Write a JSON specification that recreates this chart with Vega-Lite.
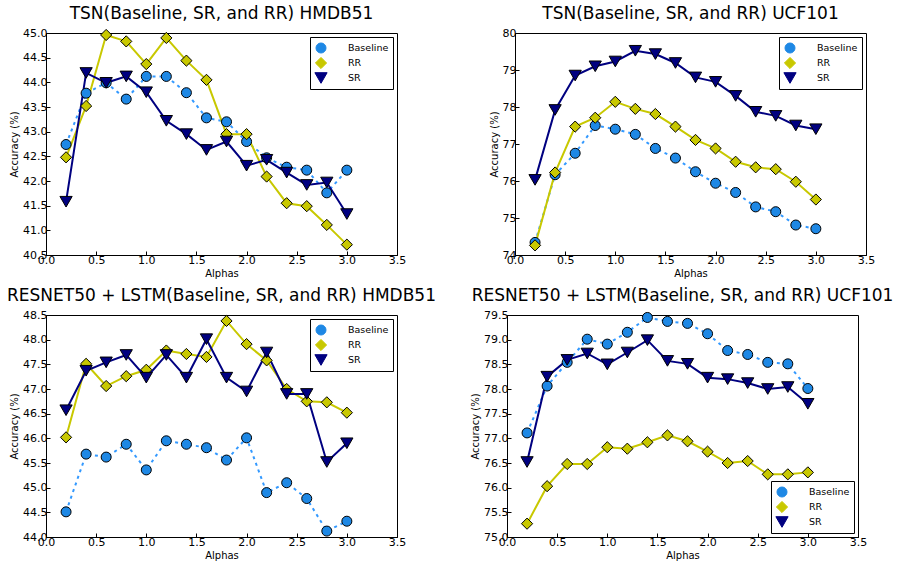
{
  "$schema": "https://vega.github.io/schema/vega-lite/v6.json",
  "padding": {"left": 6, "top": 4, "right": 2, "bottom": 1},
  "background": "white",
  "datasets": {
    "p1": [
      {"alpha":0.2,"series":"Baseline","acc":42.74},{"alpha":0.4,"series":"Baseline","acc":43.78},{"alpha":0.6,"series":"Baseline","acc":43.99},{"alpha":0.8,"series":"Baseline","acc":43.66},{"alpha":1.0,"series":"Baseline","acc":44.12},{"alpha":1.2,"series":"Baseline","acc":44.12},{"alpha":1.4,"series":"Baseline","acc":43.79},{"alpha":1.6,"series":"Baseline","acc":43.28},{"alpha":1.8,"series":"Baseline","acc":43.2},{"alpha":2.0,"series":"Baseline","acc":42.8},{"alpha":2.2,"series":"Baseline","acc":42.47},{"alpha":2.4,"series":"Baseline","acc":42.28},{"alpha":2.6,"series":"Baseline","acc":42.22},{"alpha":2.8,"series":"Baseline","acc":41.76},{"alpha":3.0,"series":"Baseline","acc":42.22},
      {"alpha":0.2,"series":"RR","acc":42.48},{"alpha":0.4,"series":"RR","acc":43.52},{"alpha":0.6,"series":"RR","acc":44.96},{"alpha":0.8,"series":"RR","acc":44.83},{"alpha":1.0,"series":"RR","acc":44.37},{"alpha":1.2,"series":"RR","acc":44.9},{"alpha":1.4,"series":"RR","acc":44.44},{"alpha":1.6,"series":"RR","acc":44.05},{"alpha":1.8,"series":"RR","acc":42.95},{"alpha":2.0,"series":"RR","acc":42.95},{"alpha":2.2,"series":"RR","acc":42.09},{"alpha":2.4,"series":"RR","acc":41.55},{"alpha":2.6,"series":"RR","acc":41.49},{"alpha":2.8,"series":"RR","acc":41.11},{"alpha":3.0,"series":"RR","acc":40.71},
      {"alpha":0.2,"series":"SR","acc":41.58},{"alpha":0.4,"series":"SR","acc":44.19},{"alpha":0.6,"series":"SR","acc":43.99},{"alpha":0.8,"series":"SR","acc":44.12},{"alpha":1.0,"series":"SR","acc":43.8},{"alpha":1.2,"series":"SR","acc":43.22},{"alpha":1.4,"series":"SR","acc":42.95},{"alpha":1.6,"series":"SR","acc":42.63},{"alpha":1.8,"series":"SR","acc":42.8},{"alpha":2.0,"series":"SR","acc":42.31},{"alpha":2.2,"series":"SR","acc":42.43},{"alpha":2.4,"series":"SR","acc":42.17},{"alpha":2.6,"series":"SR","acc":41.92},{"alpha":2.8,"series":"SR","acc":41.97},{"alpha":3.0,"series":"SR","acc":41.33}
    ],
    "p2": [
      {"alpha":0.2,"series":"Baseline","acc":74.34},{"alpha":0.4,"series":"Baseline","acc":76.17},{"alpha":0.6,"series":"Baseline","acc":76.75},{"alpha":0.8,"series":"Baseline","acc":77.5},{"alpha":1.0,"series":"Baseline","acc":77.4},{"alpha":1.2,"series":"Baseline","acc":77.26},{"alpha":1.4,"series":"Baseline","acc":76.88},{"alpha":1.6,"series":"Baseline","acc":76.62},{"alpha":1.8,"series":"Baseline","acc":76.25},{"alpha":2.0,"series":"Baseline","acc":75.94},{"alpha":2.2,"series":"Baseline","acc":75.69},{"alpha":2.4,"series":"Baseline","acc":75.3},{"alpha":2.6,"series":"Baseline","acc":75.17},{"alpha":2.8,"series":"Baseline","acc":74.81},{"alpha":3.0,"series":"Baseline","acc":74.71},
      {"alpha":0.2,"series":"RR","acc":74.26},{"alpha":0.4,"series":"RR","acc":76.23},{"alpha":0.6,"series":"RR","acc":77.47},{"alpha":0.8,"series":"RR","acc":77.71},{"alpha":1.0,"series":"RR","acc":78.14},{"alpha":1.2,"series":"RR","acc":77.95},{"alpha":1.4,"series":"RR","acc":77.81},{"alpha":1.6,"series":"RR","acc":77.47},{"alpha":1.8,"series":"RR","acc":77.11},{"alpha":2.0,"series":"RR","acc":76.88},{"alpha":2.2,"series":"RR","acc":76.52},{"alpha":2.4,"series":"RR","acc":76.37},{"alpha":2.6,"series":"RR","acc":76.32},{"alpha":2.8,"series":"RR","acc":75.98},{"alpha":3.0,"series":"RR","acc":75.5},
      {"alpha":0.2,"series":"SR","acc":76.03},{"alpha":0.4,"series":"SR","acc":77.92},{"alpha":0.6,"series":"SR","acc":78.85},{"alpha":0.8,"series":"SR","acc":79.1},{"alpha":1.0,"series":"SR","acc":79.23},{"alpha":1.2,"series":"SR","acc":79.52},{"alpha":1.4,"series":"SR","acc":79.43},{"alpha":1.6,"series":"SR","acc":79.19},{"alpha":1.8,"series":"SR","acc":78.8},{"alpha":2.0,"series":"SR","acc":78.68},{"alpha":2.2,"series":"SR","acc":78.3},{"alpha":2.4,"series":"SR","acc":77.87},{"alpha":2.6,"series":"SR","acc":77.76},{"alpha":2.8,"series":"SR","acc":77.5},{"alpha":3.0,"series":"SR","acc":77.4}
    ],
    "p3": [
      {"alpha":0.2,"series":"Baseline","acc":44.51},{"alpha":0.4,"series":"Baseline","acc":45.68},{"alpha":0.6,"series":"Baseline","acc":45.62},{"alpha":0.8,"series":"Baseline","acc":45.88},{"alpha":1.0,"series":"Baseline","acc":45.36},{"alpha":1.2,"series":"Baseline","acc":45.95},{"alpha":1.4,"series":"Baseline","acc":45.88},{"alpha":1.6,"series":"Baseline","acc":45.81},{"alpha":1.8,"series":"Baseline","acc":45.56},{"alpha":2.0,"series":"Baseline","acc":46.01},{"alpha":2.2,"series":"Baseline","acc":44.9},{"alpha":2.4,"series":"Baseline","acc":45.1},{"alpha":2.6,"series":"Baseline","acc":44.78},{"alpha":2.8,"series":"Baseline","acc":44.12},{"alpha":3.0,"series":"Baseline","acc":44.32},
      {"alpha":0.2,"series":"RR","acc":46.02},{"alpha":0.4,"series":"RR","acc":47.51},{"alpha":0.6,"series":"RR","acc":47.06},{"alpha":0.8,"series":"RR","acc":47.26},{"alpha":1.0,"series":"RR","acc":47.39},{"alpha":1.2,"series":"RR","acc":47.78},{"alpha":1.4,"series":"RR","acc":47.71},{"alpha":1.6,"series":"RR","acc":47.65},{"alpha":1.8,"series":"RR","acc":48.38},{"alpha":2.0,"series":"RR","acc":47.91},{"alpha":2.2,"series":"RR","acc":47.58},{"alpha":2.4,"series":"RR","acc":47.0},{"alpha":2.6,"series":"RR","acc":46.75},{"alpha":2.8,"series":"RR","acc":46.73},{"alpha":3.0,"series":"RR","acc":46.52},
      {"alpha":0.2,"series":"SR","acc":46.57},{"alpha":0.4,"series":"SR","acc":47.37},{"alpha":0.6,"series":"SR","acc":47.54},{"alpha":0.8,"series":"SR","acc":47.69},{"alpha":1.0,"series":"SR","acc":47.23},{"alpha":1.2,"series":"SR","acc":47.69},{"alpha":1.4,"series":"SR","acc":47.23},{"alpha":1.6,"series":"SR","acc":48.01},{"alpha":1.8,"series":"SR","acc":47.23},{"alpha":2.0,"series":"SR","acc":46.95},{"alpha":2.2,"series":"SR","acc":47.74},{"alpha":2.4,"series":"SR","acc":46.9},{"alpha":2.6,"series":"SR","acc":46.9},{"alpha":2.8,"series":"SR","acc":45.52},{"alpha":3.0,"series":"SR","acc":45.9}
    ],
    "p4": [
      {"alpha":0.2,"series":"Baseline","acc":77.11},{"alpha":0.4,"series":"Baseline","acc":78.06},{"alpha":0.6,"series":"Baseline","acc":78.54},{"alpha":0.8,"series":"Baseline","acc":79.01},{"alpha":1.0,"series":"Baseline","acc":78.91},{"alpha":1.2,"series":"Baseline","acc":79.15},{"alpha":1.4,"series":"Baseline","acc":79.45},{"alpha":1.6,"series":"Baseline","acc":79.37},{"alpha":1.8,"series":"Baseline","acc":79.33},{"alpha":2.0,"series":"Baseline","acc":79.12},{"alpha":2.2,"series":"Baseline","acc":78.78},{"alpha":2.4,"series":"Baseline","acc":78.7},{"alpha":2.6,"series":"Baseline","acc":78.54},{"alpha":2.8,"series":"Baseline","acc":78.51},{"alpha":3.0,"series":"Baseline","acc":78.01},
      {"alpha":0.2,"series":"RR","acc":75.27},{"alpha":0.4,"series":"RR","acc":76.03},{"alpha":0.6,"series":"RR","acc":76.48},{"alpha":0.8,"series":"RR","acc":76.48},{"alpha":1.0,"series":"RR","acc":76.82},{"alpha":1.2,"series":"RR","acc":76.79},{"alpha":1.4,"series":"RR","acc":76.92},{"alpha":1.6,"series":"RR","acc":77.06},{"alpha":1.8,"series":"RR","acc":76.94},{"alpha":2.0,"series":"RR","acc":76.73},{"alpha":2.2,"series":"RR","acc":76.5},{"alpha":2.4,"series":"RR","acc":76.54},{"alpha":2.6,"series":"RR","acc":76.27},{"alpha":2.8,"series":"RR","acc":76.27},{"alpha":3.0,"series":"RR","acc":76.31},
      {"alpha":0.2,"series":"SR","acc":76.52},{"alpha":0.4,"series":"SR","acc":78.25},{"alpha":0.6,"series":"SR","acc":78.59},{"alpha":0.8,"series":"SR","acc":78.72},{"alpha":1.0,"series":"SR","acc":78.5},{"alpha":1.2,"series":"SR","acc":78.74},{"alpha":1.4,"series":"SR","acc":78.99},{"alpha":1.6,"series":"SR","acc":78.57},{"alpha":1.8,"series":"SR","acc":78.51},{"alpha":2.0,"series":"SR","acc":78.23},{"alpha":2.2,"series":"SR","acc":78.2},{"alpha":2.4,"series":"SR","acc":78.12},{"alpha":2.6,"series":"SR","acc":78.0},{"alpha":2.8,"series":"SR","acc":78.04},{"alpha":3.0,"series":"SR","acc":77.7}
    ]
  },
  "vconcat": [
    {
      "hconcat": [
        {
          "width": 351, "height": 222,
          "title": "TSN(Baseline, SR, and RR) HMDB51",
          "data": {"name": "p1"},
          "encoding": {
            "x": {"field": "alpha", "type": "quantitative", "scale": {"domain": [0, 3.5]}, "axis": {"values": [0,0.5,1,1.5,2,2.5,3,3.5], "format": ".1f", "title": "Alphas", "labelOverlap": false}},
            "y": {"field": "acc", "type": "quantitative", "scale": {"domain": [40.5, 45], "zero": false}, "axis": {"values": [40.5,41,41.5,42,42.5,43,43.5,44,44.5,45], "format": ".1f", "title": "Accuracy (%)", "labelOverlap": false}},
            "color": {"field": "series", "type": "nominal", "scale": {"domain": ["Baseline","RR","SR"], "range": ["#1e88e5","#c8c800","#000080"]}, "legend": {"orient": "top-right", "title": null, "symbolStrokeColor": "black", "symbolStrokeWidth": 1}},
            "shape": {"field": "series", "type": "nominal", "scale": {"domain": ["Baseline","RR","SR"], "range": ["circle","diamond","triangle-down"]}, "legend": {"orient": "top-right", "title": null, "symbolStrokeColor": "black", "symbolStrokeWidth": 1}},
            "size": {"field": "series", "type": "nominal", "scale": {"domain": ["Baseline","RR","SR"], "range": [100, 150, 140]}, "legend": null}
          },
          "layer": [
            {"transform": [{"filter": "datum.series === 'Baseline'"}],
             "mark": {"type": "line", "strokeWidth": 2, "strokeDash": [3, 4]},
             "encoding": {"size": {"value": 2}, "shape": {"value": "circle"}, "color": {"value": "#3399ff"}}},
            {"transform": [{"filter": "datum.series !== 'Baseline'"}],
             "mark": {"type": "line", "strokeWidth": 2},
             "encoding": {"size": {"value": 2}, "shape": {"value": "circle"}}},
            {"mark": {"type": "point", "filled": true, "stroke": "black", "strokeWidth": 1, "opacity": 1}}
          ]
        },
        {
          "width": 351, "height": 222,
          "title": "TSN(Baseline, SR, and RR) UCF101",
          "data": {"name": "p2"},
          "encoding": {
            "x": {"field": "alpha", "type": "quantitative", "scale": {"domain": [0, 3.5]}, "axis": {"values": [0,0.5,1,1.5,2,2.5,3,3.5], "format": ".1f", "title": "Alphas", "labelOverlap": false}},
            "y": {"field": "acc", "type": "quantitative", "scale": {"domain": [74, 80], "zero": false}, "axis": {"values": [74,75,76,77,78,79,80], "format": "d", "title": "Accuracy (%)", "labelOverlap": false}},
            "color": {"field": "series", "type": "nominal", "scale": {"domain": ["Baseline","RR","SR"], "range": ["#1e88e5","#c8c800","#000080"]}, "legend": {"orient": "top-right", "title": null, "symbolStrokeColor": "black", "symbolStrokeWidth": 1}},
            "shape": {"field": "series", "type": "nominal", "scale": {"domain": ["Baseline","RR","SR"], "range": ["circle","diamond","triangle-down"]}, "legend": {"orient": "top-right", "title": null, "symbolStrokeColor": "black", "symbolStrokeWidth": 1}},
            "size": {"field": "series", "type": "nominal", "scale": {"domain": ["Baseline","RR","SR"], "range": [100, 150, 140]}, "legend": null}
          },
          "layer": [
            {"transform": [{"filter": "datum.series === 'Baseline'"}],
             "mark": {"type": "line", "strokeWidth": 2, "strokeDash": [3, 4]},
             "encoding": {"size": {"value": 2}, "shape": {"value": "circle"}, "color": {"value": "#3399ff"}}},
            {"transform": [{"filter": "datum.series !== 'Baseline'"}],
             "mark": {"type": "line", "strokeWidth": 2},
             "encoding": {"size": {"value": 2}, "shape": {"value": "circle"}}},
            {"mark": {"type": "point", "filled": true, "stroke": "black", "strokeWidth": 1, "opacity": 1}}
          ]
        }
      ],
      "spacing": 81,
      "resolve": {"scale": {"x": "independent", "y": "independent", "color": "independent", "shape": "independent", "size": "independent"}, "legend": {"color": "independent", "shape": "independent"}}
    },
    {
      "hconcat": [
        {
          "width": 351, "height": 222,
          "title": "RESNET50 + LSTM(Baseline, SR, and RR) HMDB51",
          "data": {"name": "p3"},
          "encoding": {
            "x": {"field": "alpha", "type": "quantitative", "scale": {"domain": [0, 3.5]}, "axis": {"values": [0,0.5,1,1.5,2,2.5,3,3.5], "format": ".1f", "title": "Alphas", "labelOverlap": false}},
            "y": {"field": "acc", "type": "quantitative", "scale": {"domain": [44, 48.5], "zero": false}, "axis": {"values": [44,44.5,45,45.5,46,46.5,47,47.5,48,48.5], "format": ".1f", "title": "Accuracy (%)", "labelOverlap": false}},
            "color": {"field": "series", "type": "nominal", "scale": {"domain": ["Baseline","RR","SR"], "range": ["#1e88e5","#c8c800","#000080"]}, "legend": {"orient": "top-right", "title": null, "symbolStrokeColor": "black", "symbolStrokeWidth": 1}},
            "shape": {"field": "series", "type": "nominal", "scale": {"domain": ["Baseline","RR","SR"], "range": ["circle","diamond","triangle-down"]}, "legend": {"orient": "top-right", "title": null, "symbolStrokeColor": "black", "symbolStrokeWidth": 1}},
            "size": {"field": "series", "type": "nominal", "scale": {"domain": ["Baseline","RR","SR"], "range": [100, 150, 140]}, "legend": null}
          },
          "layer": [
            {"transform": [{"filter": "datum.series === 'Baseline'"}],
             "mark": {"type": "line", "strokeWidth": 2, "strokeDash": [3, 4]},
             "encoding": {"size": {"value": 2}, "shape": {"value": "circle"}, "color": {"value": "#3399ff"}}},
            {"transform": [{"filter": "datum.series !== 'Baseline'"}],
             "mark": {"type": "line", "strokeWidth": 2},
             "encoding": {"size": {"value": 2}, "shape": {"value": "circle"}}},
            {"mark": {"type": "point", "filled": true, "stroke": "black", "strokeWidth": 1, "opacity": 1}}
          ]
        },
        {
          "width": 351, "height": 222,
          "title": "RESNET50 + LSTM(Baseline, SR, and RR) UCF101",
          "data": {"name": "p4"},
          "encoding": {
            "x": {"field": "alpha", "type": "quantitative", "scale": {"domain": [0, 3.5]}, "axis": {"values": [0,0.5,1,1.5,2,2.5,3,3.5], "format": ".1f", "title": "Alphas", "labelOverlap": false}},
            "y": {"field": "acc", "type": "quantitative", "scale": {"domain": [75, 79.5], "zero": false}, "axis": {"values": [75,75.5,76,76.5,77,77.5,78,78.5,79,79.5], "format": ".1f", "title": "Accuracy (%)", "labelOverlap": false}},
            "color": {"field": "series", "type": "nominal", "scale": {"domain": ["Baseline","RR","SR"], "range": ["#1e88e5","#c8c800","#000080"]}, "legend": {"orient": "bottom-right", "title": null, "symbolStrokeColor": "black", "symbolStrokeWidth": 1}},
            "shape": {"field": "series", "type": "nominal", "scale": {"domain": ["Baseline","RR","SR"], "range": ["circle","diamond","triangle-down"]}, "legend": {"orient": "bottom-right", "title": null, "symbolStrokeColor": "black", "symbolStrokeWidth": 1}},
            "size": {"field": "series", "type": "nominal", "scale": {"domain": ["Baseline","RR","SR"], "range": [100, 150, 140]}, "legend": null}
          },
          "layer": [
            {"transform": [{"filter": "datum.series === 'Baseline'"}],
             "mark": {"type": "line", "strokeWidth": 2, "strokeDash": [3, 4]},
             "encoding": {"size": {"value": 2}, "shape": {"value": "circle"}, "color": {"value": "#3399ff"}}},
            {"transform": [{"filter": "datum.series !== 'Baseline'"}],
             "mark": {"type": "line", "strokeWidth": 2},
             "encoding": {"size": {"value": 2}, "shape": {"value": "circle"}}},
            {"mark": {"type": "point", "filled": true, "stroke": "black", "strokeWidth": 1, "opacity": 1}}
          ]
        }
      ],
      "spacing": 33,
      "resolve": {"scale": {"x": "independent", "y": "independent", "color": "independent", "shape": "independent", "size": "independent"}, "legend": {"color": "independent", "shape": "independent"}}
    }
  ],
  "spacing": 7,
  "resolve": {"scale": {"x": "independent", "y": "independent", "color": "independent", "shape": "independent", "size": "independent"}, "legend": {"color": "independent", "shape": "independent"}},
  "config": {
    "font": "DejaVu Sans",
    "view": {"stroke": "black", "strokeWidth": 1},
    "title": {"fontSize": 17, "fontWeight": "normal", "color": "black", "font": "DejaVu Sans", "offset": 4},
    "axis": {
      "grid": false, "domainColor": "black", "domainWidth": 1, "tickColor": "black", "tickSize": -4, "tickWidth": 1,
      "labelFont": "DejaVu Sans", "labelFontSize": 11, "labelColor": "black", "labelPadding": 3, "labelFlush": false, "labelOverlap": false,
      "titleFont": "DejaVu Sans", "titleFontSize": 10, "titleFontWeight": "normal", "titleColor": "black", "titlePadding": 3
    },
    "legend": {
      "fillColor": "white", "strokeColor": "black", "strokeWidth": 1, "padding": 4, "cornerRadius": 0,
      "offset": 4, "labelFont": "DejaVu Sans", "labelFontSize": 9.5, "labelColor": "black", "labelOffset": 20,
      "symbolStrokeColor": "black", "symbolStrokeWidth": 1, "symbolSize": 120, "rowPadding": 1, "clipHeight": 14
    }
  }
}
